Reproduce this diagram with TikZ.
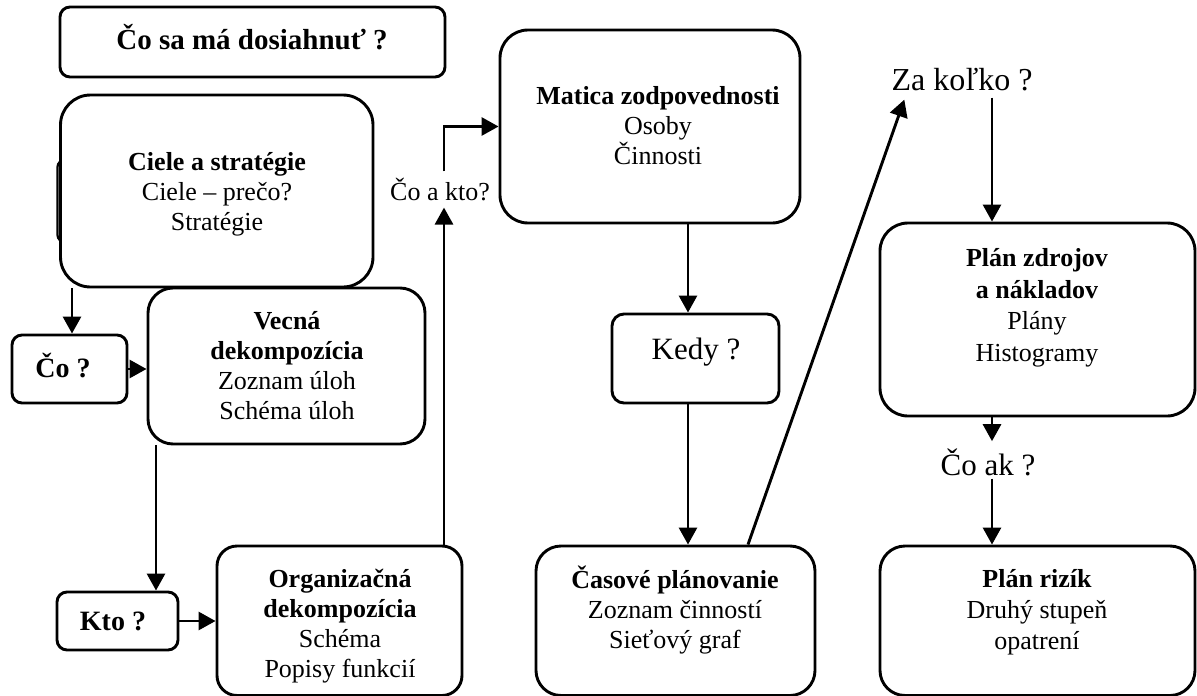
\documentclass[tikz,border=0pt]{standalone}
\usepackage{fontspec}
\setmainfont{Liberation Serif}
\usetikzlibrary{arrows.meta}
\begin{document}
\begin{tikzpicture}[x=1pt,y=-1pt,
  box/.style={draw, fill=white, line width=2.9pt, inner sep=0pt},
  txt/.style={inner sep=0pt, align=center, font=\fontsize{26}{30}\selectfont},
  head/.style={inner sep=0pt, anchor=base, font=\fontsize{28}{32}\selectfont\bfseries},
  ask/.style={inner sep=0pt, anchor=base, font=\fontsize{31}{36}\selectfont},
  arr/.style={line width=2.9pt, -{Triangle[length=17pt,width=18pt]}}]
\useasboundingbox (0,0) rectangle (1197,696);

% columns of the vertical connectors
\coordinate (c1) at (72,0);
\coordinate (c2) at (156,0);
\coordinate (c3) at (444,0);
\coordinate (c4) at (688,0);
\coordinate (c5) at (992,0);
\coordinate (c6) at (748,0);

% frame partly hidden behind the goals box
\draw[line width=2.2pt, rounded corners=7pt] (57.5,160) rectangle (120,242);

% boxes
\node[box, rounded corners=10pt, minimum width=385pt, minimum height=70pt] (goal) at (252.5,42) {};
\node[box, rounded corners=30pt, minimum width=312.5pt, minimum height=192pt] (ciele) at (216.75,191) {};
\node[box, rounded corners=10pt, minimum width=115pt, minimum height=68pt] (co) at (69.5,369) {};
\node[box, rounded corners=25pt, minimum width=277pt, minimum height=156pt] (vecna) at (286.5,366) {};
\node[box, rounded corners=10pt, minimum width=121pt, minimum height=58pt] (kto) at (117.5,621) {};
\node[box, rounded corners=20pt, minimum width=245pt, minimum height=149.5pt] (org) at (339.5,620.75) {};
\node[box, rounded corners=28pt, minimum width=300pt, minimum height=193pt] (matica) at (650,126.5) {};
\node[box, rounded corners=12pt, minimum width=167pt, minimum height=89pt] (kedy) at (695.5,358.5) {};
\node[box, rounded corners=25pt, minimum width=279pt, minimum height=149.5pt] (casove) at (675.5,620.75) {};
\node[box, rounded corners=28pt, minimum width=315pt, minimum height=193pt] (zdroj) at (1037.5,319.5) {};
\node[box, rounded corners=25pt, minimum width=315pt, minimum height=149.5pt] (riziko) at (1037.5,620.75) {};

% texts
\node[head, font=\fontsize{29}{34}\selectfont\bfseries] (goal-t) at (252,49) {Čo sa má dosiahnuť ?};
\node[txt] (ciele-t) at (217,194) {\textbf{Ciele a stratégie}\\Ciele – prečo?\\Stratégie};
\node[head] (co-t) at (63,377) {Čo ?};
\node[txt] (vecna-t) at (287,366) {\textbf{Vecná}\\\textbf{dekompozícia}\\Zoznam úloh\\Schéma úloh};
\node[head] (kto-t) at (113,630) {Kto ?};
\node[txt] (org-t) at (340,626) {\textbf{Organizačná}\\\textbf{dekompozícia}\\Schéma\\Popisy funkcií};
\node[txt] (matica-t) at (658,126) {\textbf{Matica zodpovednosti}\\Osoby\\Činnosti};
\node[ask] (kedy-t) at (696,359) {Kedy ?};
\node[txt] (casove-t) at (675,610.5) {\textbf{Časové plánovanie}\\Zoznam činností\\Sieťový graf};
\node[txt, font=\fontsize{26}{31.5}\selectfont] (zdroj-t) at (1037,308) {\textbf{Plán zdrojov}\\\textbf{a nákladov}\\Plány\\Histogramy};
\node[txt, font=\fontsize{26}{31}\selectfont] (riziko-t) at (1037,612.5) {\textbf{Plán rizík}\\Druhý stupeň\\opatrení};

\node[inner sep=0pt, anchor=base, font=\fontsize{26}{30}\selectfont] (lbl) at (440,200) {Čo a kto?};
\node[inner sep=0pt, anchor=base, font=\fontsize{32}{38}\selectfont] (zak) at (962,90) {Za koľko ?};
\node[ask] (coak) at (988,475) {Čo ak ?};

% connectors
\draw[arr] (ciele.south -| c1) -- (co.north -| c1);
\draw[arr] (co.east) -- (co.east -| vecna.west);
\draw[arr] (vecna.south -| c2) -- (kto.north -| c2);
\draw[arr] (kto.east) -- (kto.east -| org.west);
\draw[arr, shorten >=7pt] (org.north -| c3) -- (lbl.south -| c3);
\draw[arr, shorten <=6pt] (lbl.north -| c3) |- (matica.west);
\draw[arr] (matica.south -| c4) -- (kedy.north -| c4);
\draw[arr] (kedy.south -| c4) -- (casove.north -| c4);
\draw[arr] (casove.north -| c6) -- ([xshift=13pt,yshift=-9pt]zak.south west);
\draw[arr, shorten <=7pt] (zak.south -| c5) -- (zdroj.north -| c5);
\draw[arr, shorten >=7pt] (zdroj.south -| c5) -- (coak.north -| c5);
\draw[arr, shorten <=3pt] (coak.south -| c5) -- (riziko.north -| c5);
\end{tikzpicture}
\end{document}
